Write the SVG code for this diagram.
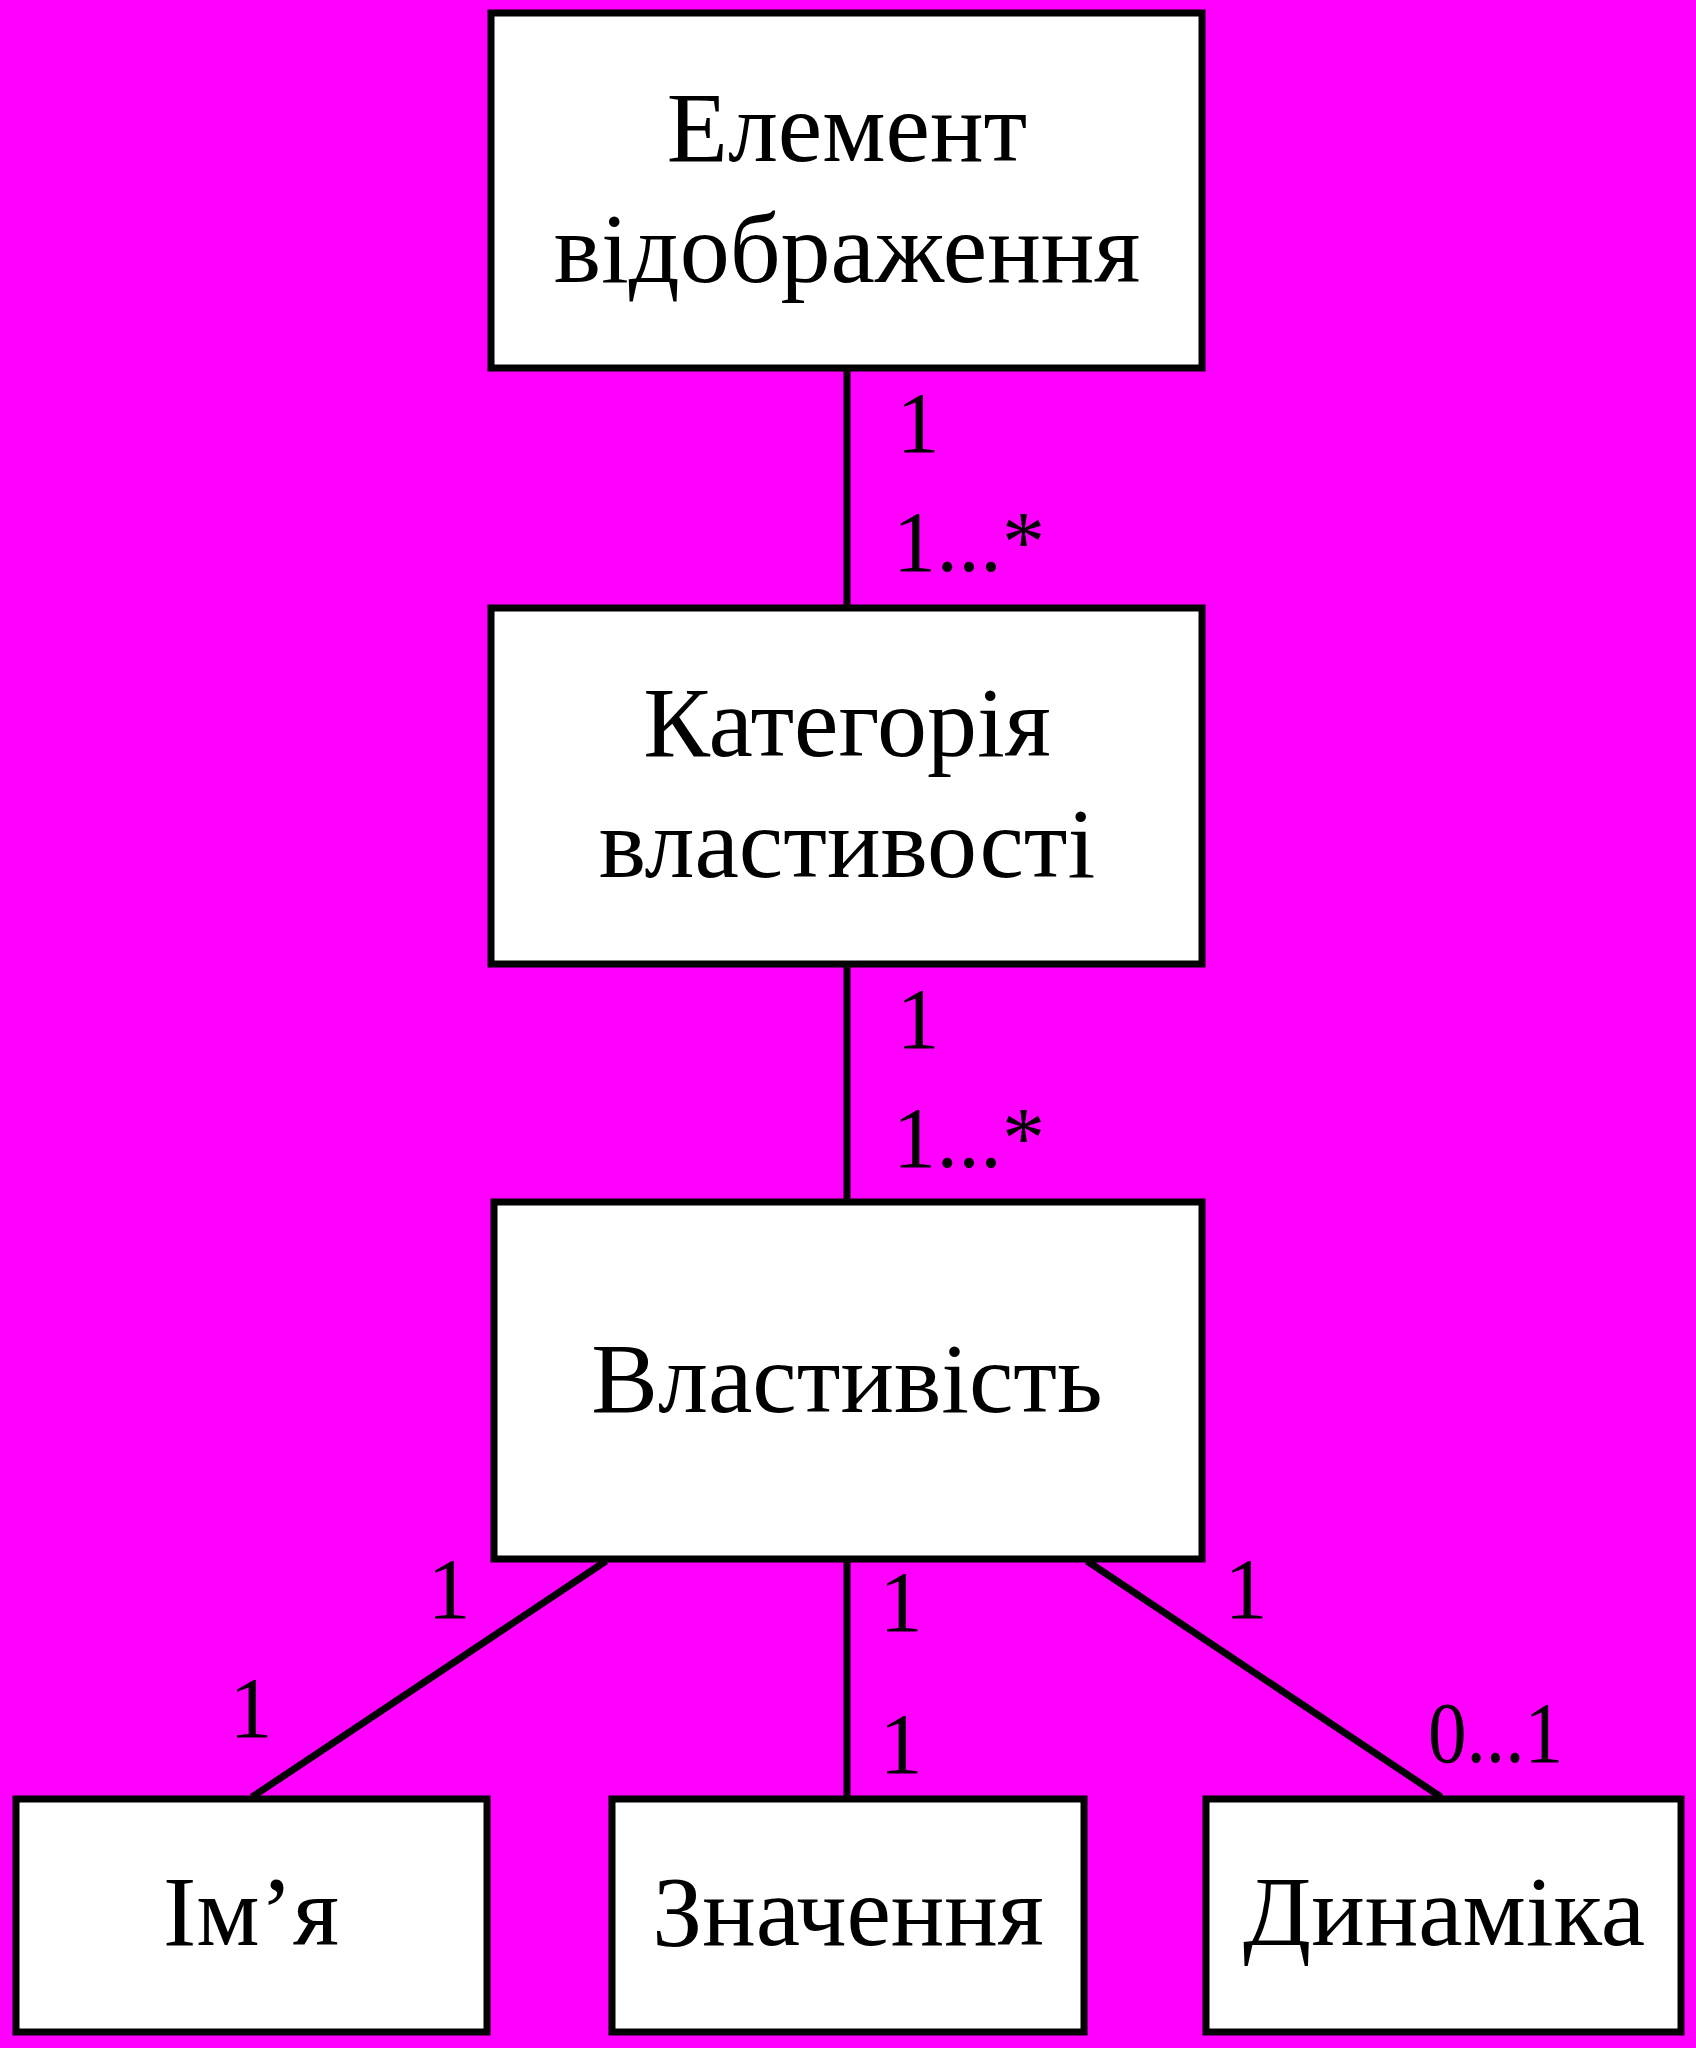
<svg xmlns="http://www.w3.org/2000/svg" width="1696" height="2048" viewBox="0 0 1696 2048">
<style>
.box{fill:#FFFFFF;stroke:#000000;stroke-width:7}
.con{stroke:#000000;stroke-width:7;fill:none}
.lbl{font-family:"Liberation Serif","Times New Roman",serif;font-size:100px;fill:#000000;text-anchor:middle}
.mul{font-family:"Liberation Serif","Times New Roman",serif;font-size:86px;fill:#000000}
</style>
<rect x="0" y="0" width="1696" height="2048" fill="#FF00FF"/>
<g id="connectors">
<line class="con" x1="847" y1="368" x2="847" y2="607"/>
<line class="con" x1="847" y1="964" x2="847" y2="1201"/>
<line class="con" x1="847" y1="1559" x2="847" y2="1798"/>
<line class="con" x1="606" y1="1561" x2="252" y2="1797"/>
<line class="con" x1="1087" y1="1561" x2="1441" y2="1797"/>
<text class="mul" x="918" y="452" text-anchor="middle">1</text>
<text class="mul" x="893" y="571" textLength="152" lengthAdjust="spacing">1...*</text>
<text class="mul" x="918" y="1048" text-anchor="middle">1</text>
<text class="mul" x="893" y="1167" textLength="152" lengthAdjust="spacing">1...*</text>
<text class="mul" x="449" y="1618" text-anchor="middle">1</text>
<text class="mul" x="251" y="1737" text-anchor="middle">1</text>
<text class="mul" x="901" y="1631" text-anchor="middle">1</text>
<text class="mul" x="901" y="1773" text-anchor="middle">1</text>
<text class="mul" x="1246" y="1618" text-anchor="middle">1</text>
<text class="mul" x="1428" y="1762" textLength="135" lengthAdjust="spacingAndGlyphs">0...1</text>
</g>
<g id="element">
<rect class="box" x="491" y="13" width="711" height="355"/>
<text class="lbl" x="847" y="161">Елемент</text>
<text class="lbl" x="847" y="282">відображення</text>
</g>
<g id="category">
<rect class="box" x="491" y="608" width="711" height="356"/>
<text class="lbl" x="847" y="756">Категорія</text>
<text class="lbl" x="847" y="877">властивості</text>
</g>
<g id="property">
<rect class="box" x="494" y="1202" width="708" height="357"/>
<text class="lbl" x="847" y="1412">Властивість</text>
</g>
<g id="name">
<rect class="box" x="16" y="1799" width="471" height="233"/>
<text class="lbl" x="251" y="1945">Ім’я</text>
</g>
<g id="value">
<rect class="box" x="612" y="1799" width="472" height="233"/>
<text class="lbl" x="848" y="1945">Значення</text>
</g>
<g id="dynamics">
<rect class="box" x="1206" y="1799" width="475" height="233"/>
<text class="lbl" x="1444" y="1945">Динаміка</text>
</g>
</svg>
